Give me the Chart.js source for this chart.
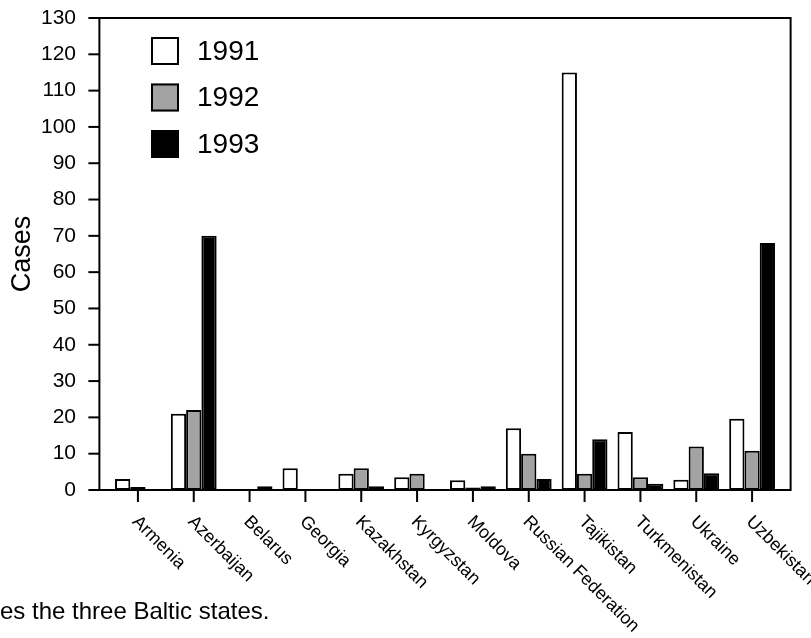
<!DOCTYPE html>
<html>
<head>
<meta charset="utf-8">
<script src="https://cdn.jsdelivr.net/npm/chart.js@4/dist/chart.umd.min.js"></script>
<style>
  html, body { margin: 0; padding: 0; background: #ffffff; }
  #wrap { width: 811px; height: 638px; position: relative; }
</style>
</head>
<body>
<div id="wrap"><canvas id="chart"></canvas></div>
<script>
// Reported cases by republic of the former USSR, 1991-1993
const countries = ['Armenia', 'Azerbaijan', 'Belarus', 'Georgia', 'Kazakhstan', 'Kyrgyzstan',
  'Moldova', 'Russian Federation', 'Tajikistan', 'Turkmenistan', 'Ukraine', 'Uzbekistan'];
const years = ['1991', '1992', '1993'];
const cases1991 = [3, 21, 0, 6, 4.5, 3.5, 2.7, 17, 115, 16, 2.8, 19.6];
const cases1992 = [0.8, 22, 0, 0, 6, 4.5, 0.7, 10, 4.5, 3.5, 12, 10.8];
const cases1993 = [0, 70, 1, 0, 1, 0, 1, 3, 14, 1.7, 4.6, 68];
const yMin = 0, yMax = 130, yStep = 10;
const yTitle = 'Cases';
const footnote = 'es the three Baltic states.';

const FONT = '"Liberation Sans", Arial, Helvetica, sans-serif';
const fills = ['#ffffff', '#a3a3a3', '#000000'];

// Box frame, tick marks, slanted category labels, inset legend and note
const decorations = {
  id: 'decorations',
  afterDatasetsDraw(chart) {
    const { ctx, chartArea: a, scales } = chart;
    const xs = scales.x, ys = scales.y;
    const catW = (a.right - a.left) / countries.length;
    const pad = catW * 0.19;
    const fl = a.left - pad, fr = a.right + pad;
    ctx.save();
    ctx.strokeStyle = '#000';
    ctx.lineWidth = 2;
    ctx.lineCap = 'square';
    ctx.beginPath();
    ctx.moveTo(fl, a.bottom); ctx.lineTo(fr, a.bottom); ctx.lineTo(fr, a.top);
    ctx.lineTo(fl, a.top); ctx.lineTo(fl, a.bottom);
    ctx.stroke();
    ctx.lineCap = 'butt';
    // y tick marks
    ys.ticks.forEach(t => {
      const y = ys.getPixelForValue(t.value);
      ctx.beginPath(); ctx.moveTo(fl - 11, y); ctx.lineTo(fl, y); ctx.stroke();
    });
    // x tick marks and rotated labels
    ctx.fillStyle = '#000';
    ctx.font = '18px ' + FONT;
    ctx.textAlign = 'left';
    ctx.textBaseline = 'middle';
    countries.forEach((name, i) => {
      const x = xs.getPixelForValue(i);
      ctx.beginPath(); ctx.moveTo(x, a.bottom); ctx.lineTo(x, a.bottom + 12); ctx.stroke();
      ctx.save();
      ctx.translate(x - 3, a.bottom + 29);
      ctx.rotate(Math.PI / 4);
      ctx.fillText(name, 0, 0);
      ctx.restore();
    });
    // legend
    const lx = a.left + 41, ly = a.top + 19, sz = 28, gap = 46.5;
    chart.data.datasets.forEach((ds, i) => {
      const top = ly + i * gap;
      ctx.fillStyle = ds.backgroundColor;
      ctx.fillRect(lx, top, sz, sz);
      ctx.strokeStyle = '#000';
      ctx.lineWidth = 2;
      ctx.strokeRect(lx + 1, top + 1, sz - 2, sz - 2);
      ctx.fillStyle = '#000';
      ctx.font = '28px ' + FONT;
      ctx.textAlign = 'left';
      ctx.textBaseline = 'middle';
      ctx.fillText(ds.label, lx + sz + 18, top + sz / 2 + 1);
    });
    // note
    ctx.font = '24px ' + FONT;
    ctx.textBaseline = 'middle';
    ctx.fillText(footnote, 0, 612);
    ctx.restore();
  }
};

const datasets = [cases1991, cases1992, cases1993].map((vals, i) => ({
  label: years[i],
  data: vals,
  backgroundColor: fills[i],
  borderColor: '#000000',
  borderWidth: 2,
  borderSkipped: false,
  categoryPercentage: 0.82,
  barPercentage: 1.0
}));

new Chart(document.getElementById('chart'), {
  type: 'bar',
  data: { labels: countries, datasets },
  options: {
    responsive: true,
    maintainAspectRatio: false,
    animation: false,
    layout: { padding: { top: 18, right: 31, bottom: 148, left: 0 } },
    plugins: { legend: { display: false }, tooltip: { enabled: false } },
    scales: {
      x: { display: false, offset: true },
      y: {
        min: yMin, max: yMax,
        afterFit(scale) {
          scale.width = 110;
          scale.paddingTop = 0;
          scale.paddingBottom = 0;
        },
        ticks: { stepSize: yStep, color: '#000', padding: 34, font: { family: FONT, size: 21 } },
        grid: { display: false, drawTicks: false },
        border: { display: false },
        title: { display: true, text: yTitle, color: '#000', padding: { top: 6, bottom: 0 },
          font: { family: FONT, size: 27 } }
      }
    }
  },
  plugins: [decorations]
});
</script>
</body>
</html>
